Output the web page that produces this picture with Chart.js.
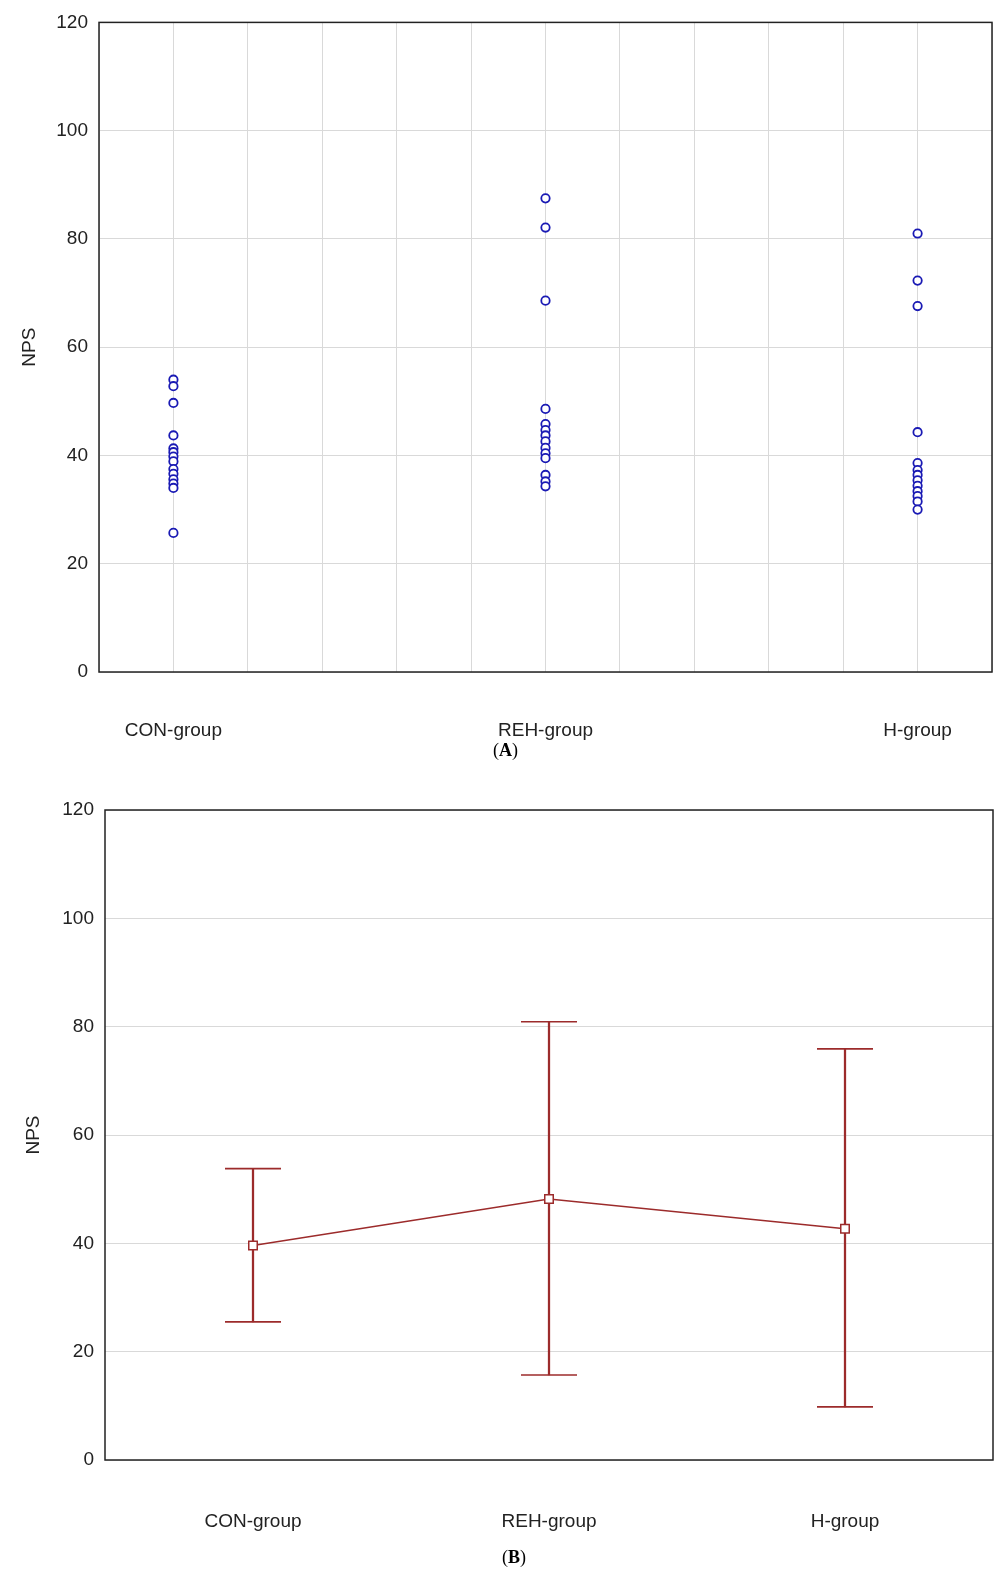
<!DOCTYPE html>
<html>
<head>
<meta charset="utf-8">
<script src="https://cdn.jsdelivr.net/npm/chart.js@4/dist/chart.umd.min.js"></script>
<style>
  body { margin: 0; background: #fff; width: 995px; height: 1571px; position: relative; overflow: hidden; }
  canvas { position: absolute; left: 0; }
  .panel { position: absolute; font-family: "Liberation Serif", serif; font-size: 18px; color: #000; }
</style>
</head>
<body>
<canvas id="chartA" width="995" height="742" style="top:0"></canvas>
<div class="panel" style="left:493px; top:740px;">(<b>A</b>)</div>
<canvas id="chartB" width="995" height="777" style="top:772px"></canvas>
<div class="panel" style="left:502px; top:1547px;">(<b>B</b>)</div>
<script>
// Groups and where they sit on the 0..12 axis of panel A
const categories = ['CON-group', 'REH-group', 'H-group'];
const groupSlots = [1, 6, 11];

// Panel A: individual NPS values
const conValues = [54.0, 52.8, 49.7, 43.7, 41.3, 40.6, 39.8, 38.9, 37.5, 36.6, 35.6, 34.8, 34.0, 25.7];
const rehValues = [87.5, 82.1, 68.6, 48.6, 45.8, 44.7, 43.7, 42.6, 41.4, 40.4, 39.5, 36.4, 35.2, 34.3];
const hValues = [81.0, 72.3, 67.6, 44.3, 38.6, 37.3, 36.4, 35.4, 34.4, 33.4, 32.5, 31.5, 30.0];

// Panel B: mean and range
const means = [39.6, 48.2, 42.7];
const lows = [25.5, 15.7, 9.8];
const highs = [53.8, 80.9, 75.9];

const yTicks = [0, 20, 40, 60, 80, 100, 120];

const gridColor = '#d9d9d9';
const tickFont = { family: 'Liberation Sans, Arial, sans-serif', size: 19 };
const blue = '#1a1ab4';
const red = '#9c2b2b';

// Draws the black frame round the plot area
const framePlugin = {
    id: 'frame',
    afterDraw(chart) {
        const a = chart.chartArea;
        const ctx = chart.ctx;
        ctx.save();
        ctx.strokeStyle = '#222';
        ctx.lineWidth = 1.5;
        ctx.strokeRect(a.left, a.top, a.right - a.left, a.bottom - a.top);
        ctx.restore();
    }
};

// fixed axis boxes so the plot areas line up with the reference
function fixX(h) {
    return s => { s.height = h; s.paddingLeft = 0; s.paddingRight = 0; };
}

const allGroups = [conValues, rehValues, hValues];
const scatterSets = allGroups.map((vals, i) => ({
    label: categories[i],
    data: vals.map(v => ({ x: groupSlots[i], y: v })),
    pointStyle: 'circle',
    pointRadius: 4.2,
    pointBorderWidth: 1.8,
    pointBorderColor: blue,
    pointBackgroundColor: '#fff'
}));

new Chart(document.getElementById('chartA'), {
    type: 'scatter',
    data: { datasets: scatterSets },
    options: {
        responsive: false,
        animation: false,
        layout: { autoPadding: false, padding: { top: 22, right: 3, left: 0, bottom: 0 } },
        plugins: { legend: { display: false }, tooltip: { enabled: false } },
        scales: {
            x: {
                type: 'linear',
                min: 0,
                max: 12,
                afterFit: fixX(70),
                afterBuildTicks: s => { s.ticks = Array.from({ length: 13 }, (_, i) => ({ value: i })); },
                grid: { color: gridColor, drawTicks: false },
                border: { display: false },
                ticks: {
                    autoSkip: false,
                    maxRotation: 0,
                    padding: 47,
                    font: tickFont,
                    color: '#222',
                    callback: v => {
                        const k = groupSlots.indexOf(v);
                        return k >= 0 ? categories[k] : '';
                    }
                }
            },
            y: {
                min: 0,
                max: 120,
                afterFit: s => { s.width = 99; },
                afterBuildTicks: s => { s.ticks = yTicks.map(v => ({ value: v })); },
                grid: { color: gridColor, drawTicks: false },
                border: { display: false },
                ticks: { padding: 11, font: tickFont, color: '#222' },
                title: { display: true, text: 'NPS', font: tickFont, color: '#222', padding: { top: 18, bottom: 0 } }
            }
        }
    },
    plugins: [framePlugin]
});

new Chart(document.getElementById('chartB'), {
    type: 'bar',
    data: {
        labels: categories,
        datasets: [
            {
                type: 'line',
                data: means,
                borderColor: red,
                borderWidth: 1.5,
                pointStyle: 'rect',
                pointRadius: 6,
                pointBorderWidth: 1.5,
                pointBorderColor: red,
                pointBackgroundColor: '#fff',
                order: 0
            },
            {
                type: 'bar',
                data: lows.map((lo, i) => [lo, highs[i]]),
                backgroundColor: red,
                barThickness: 1.6,
                order: 1
            },
            {
                type: 'line',
                data: highs,
                showLine: false,
                pointStyle: 'line',
                pointRadius: 28,
                pointBorderWidth: 1.6,
                pointBorderColor: red,
                order: 1
            },
            {
                type: 'line',
                data: lows,
                showLine: false,
                pointStyle: 'line',
                pointRadius: 28,
                pointBorderWidth: 1.6,
                pointBorderColor: red,
                order: 1
            }
        ]
    },
    options: {
        responsive: false,
        animation: false,
        layout: { autoPadding: false, padding: { top: 38, right: 2, left: 0, bottom: 0 } },
        plugins: { legend: { display: false }, tooltip: { enabled: false } },
        scales: {
            x: {
                offset: true,
                afterFit: fixX(89),
                grid: { display: false },
                border: { display: false },
                ticks: { autoSkip: false, maxRotation: 0, padding: 42, font: tickFont, color: '#222' }
            },
            y: {
                min: 0,
                max: 120,
                afterFit: s => { s.width = 105; },
                afterBuildTicks: s => { s.ticks = yTicks.map(v => ({ value: v })); },
                grid: { color: gridColor, drawTicks: false },
                border: { display: false },
                ticks: { padding: 11, font: tickFont, color: '#222' },
                title: { display: true, text: 'NPS', font: tickFont, color: '#222', padding: { top: 22, bottom: 0 } }
            }
        }
    },
    plugins: [framePlugin]
});
</script>
</body>
</html>
